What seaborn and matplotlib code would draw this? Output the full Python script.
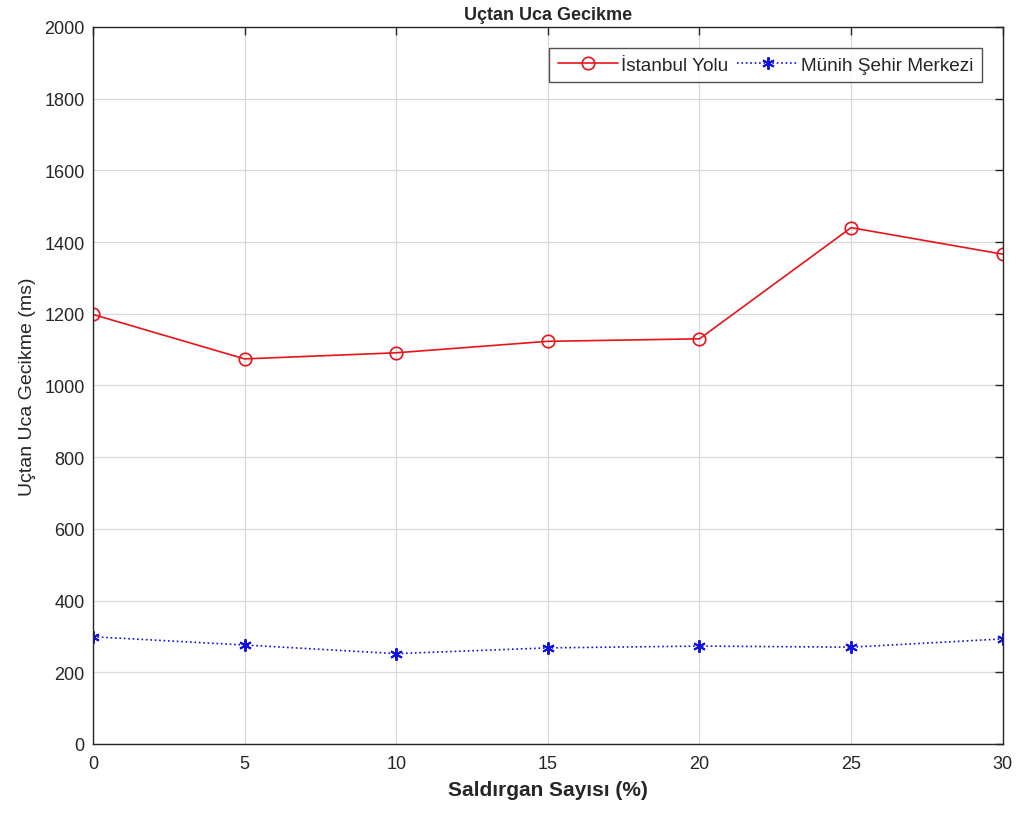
import matplotlib
matplotlib.use("Agg")
import matplotlib.pyplot as plt
import seaborn as sns
import pandas as pd

attackers = [0, 5, 10, 15, 20, 25, 30]
istanbul = [1198, 1074, 1091, 1123, 1130, 1440, 1366]
munich = [299, 276, 252, 268, 273, 270, 293]
series_names = ["İstanbul Yolu", "Münih Şehir Merkezi"]

sns.set_style("white")
plt.rcParams['font.family'] = ['Liberation Sans', 'DejaVu Sans']

fig = plt.figure(figsize=(10.17, 8.2), dpi=100)
ax = fig.add_axes([0.0914, 0.0915, 0.8946, 0.8745])

df1 = pd.DataFrame({"x": attackers, "y": istanbul})
df2 = pd.DataFrame({"x": attackers, "y": munich})
sns.lineplot(data=df1, x="x", y="y", ax=ax, color="#e8141a", lw=1.2,
             marker="o", markersize=9, markerfacecolor="none",
             markeredgecolor="#e8141a", markeredgewidth=1.2, label=series_names[0])
sns.lineplot(data=df2, x="x", y="y", ax=ax, color="#1010e0", lw=1.2,
             linestyle=":", marker="*", markersize=9, markerfacecolor="#1010e0",
             markeredgecolor="#1010e0", label=series_names[1])
# use asterisk-like marker
ax.lines[1].set_marker((6, 2, 0))
ax.lines[1].set_markersize(9)
ax.lines[1].set_markeredgewidth(1.4)

ax.set_xlim(0, 30)
ax.set_ylim(0, 2000)
ax.set_xticks(range(0, 31, 5))
ax.set_yticks(range(0, 2001, 200))
ax.grid(True, color="#d9d9d9", lw=0.9)
ax.set_axisbelow(True)
for s in ax.spines.values():
    s.set_visible(True)
    s.set_color("#262626")
    s.set_linewidth(1.0)
ax.tick_params(direction="in", length=6, width=1, colors="#262626",
               labelsize=13, top=True, right=True, labelcolor="#262626", pad=6)
ax.tick_params(axis="x", pad=8)

ax.set_title("Uçtan Uca Gecikme", fontsize=13, fontweight="bold", pad=6)
ax.set_xlabel("Saldırgan Sayısı (%)", fontsize=15, fontweight="bold", color="#262626", labelpad=6)
ax.set_ylabel("Uçtan Uca Gecikme (ms)", fontsize=14, color="#262626", labelpad=6)

leg = ax.legend(loc="upper right", ncol=2, fontsize=13.7, frameon=True, fancybox=False,
                edgecolor="#262626", borderpad=0.45, columnspacing=0.45,
                handlelength=3.2, handletextpad=0.15, borderaxespad=0,
                bbox_to_anchor=(0.977, 0.971))
leg.get_frame().set_linewidth(1.0)

fig.savefig("out.png", dpi=100)
